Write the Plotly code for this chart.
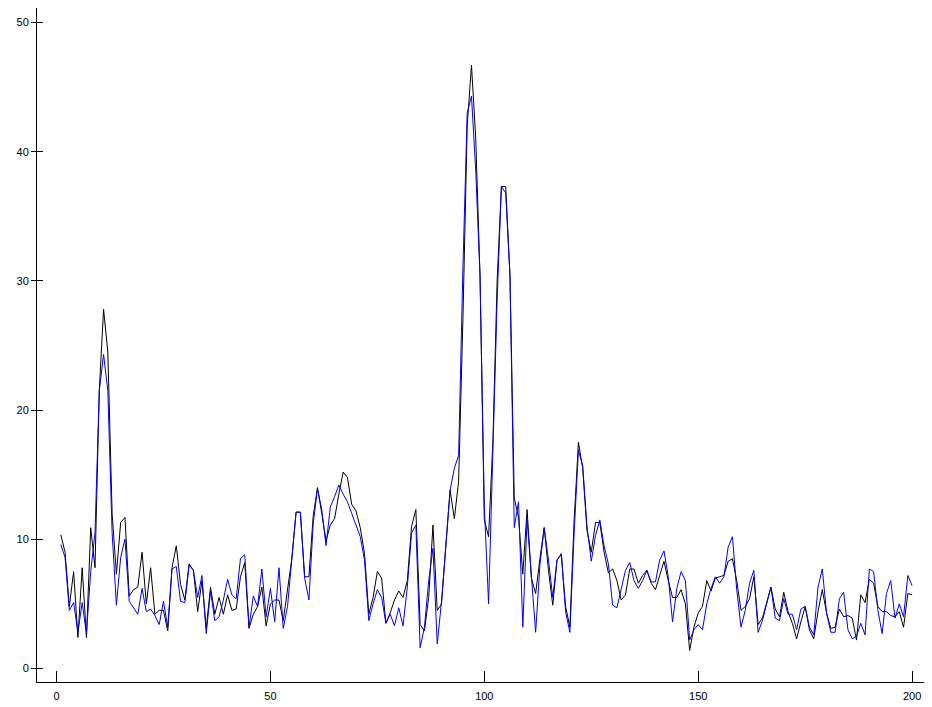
import plotly.graph_objects as go

x_values = list(range(1, 201))

black_series = [
    10.35, 9.0, 4.8, 7.5, 2.4, 7.8, 2.4, 10.9, 7.8, 21.5,
    27.8, 24.5, 12.0, 7.3, 11.3, 11.7, 5.6, 6.1, 6.3, 9.0,
    5.0, 7.8, 4.2, 4.5, 4.5, 2.9, 7.8, 9.5, 6.5, 5.3,
    8.1, 7.6, 4.4, 6.8, 3.1, 6.3, 4.2, 5.5, 4.2, 5.7,
    4.5, 4.6, 7.1, 8.2, 3.1, 4.2, 4.8, 6.3, 3.3, 5.0,
    5.3, 5.3, 3.7, 6.0, 8.5, 12.1, 12.1, 7.1, 7.1, 11.8,
    14.0, 12.0, 9.9, 11.1, 11.6, 13.5, 15.2, 14.8, 12.7, 12.2,
    10.9, 8.9, 4.2, 5.5, 7.5, 7.0, 3.5, 4.3, 5.3, 6.0,
    5.5, 6.8, 11.0, 12.3, 3.4, 2.9, 5.5, 11.1, 4.5, 5.0,
    9.5, 13.8, 11.6, 14.5, 27.0, 42.0, 46.7, 41.0, 30.4, 11.5,
    10.2, 17.5, 30.0, 37.3, 37.3, 30.4, 13.2, 11.7, 7.3, 12.3,
    7.0, 5.8, 8.5, 10.9, 7.6, 4.9, 8.4, 8.8, 4.8, 3.2,
    11.5, 17.5, 15.5, 10.7, 9.0, 11.3, 11.3, 9.0, 7.4, 7.7,
    6.8, 5.3, 5.7, 7.7, 7.7, 6.6, 7.2, 7.6, 6.6, 6.1,
    7.2, 8.3, 6.8, 5.5, 5.5, 6.1, 5.0, 1.4, 3.2, 4.3,
    4.8, 6.8, 6.0, 7.0, 7.1, 7.2, 8.3, 8.5, 6.8, 4.5,
    4.8, 5.4, 7.1, 3.4, 3.9, 5.0, 6.3, 4.6, 4.0, 5.9,
    4.4, 3.5, 2.3, 3.6, 4.8, 3.0, 2.3, 4.4, 6.1, 4.3,
    3.1, 3.2, 4.6, 4.0, 4.1, 3.9, 2.2, 5.7, 5.1, 6.9,
    6.6, 4.8, 4.4, 4.4, 4.1, 4.0, 4.4, 3.2, 5.8, 5.7,
]

blue_series = [
    9.6, 8.6, 4.5, 5.1, 2.8, 5.1, 2.7, 7.5, 10.5, 21.5,
    24.3, 21.5, 10.5, 4.9, 8.6, 10.0, 5.2, 4.7, 4.2, 6.2,
    4.4, 4.6, 4.1, 3.4, 5.2, 3.2, 7.7, 7.9, 5.2, 5.1,
    8.0, 7.6, 5.5, 7.2, 2.7, 6.0, 3.7, 4.0, 5.3, 6.9,
    5.7, 5.4, 8.5, 8.8, 3.2, 5.6, 4.8, 7.7, 4.0, 6.2,
    3.6, 7.8, 3.1, 4.8, 8.6, 12.1, 12.1, 7.0, 5.3, 11.2,
    13.9, 12.3, 9.5, 12.5, 13.3, 14.2, 13.5, 12.9, 12.0, 11.1,
    10.2, 8.4, 3.7, 5.0, 6.1, 5.5, 3.5, 4.2, 3.3, 4.7,
    3.3, 6.3, 10.5, 11.1, 1.6, 3.2, 6.8, 9.3, 1.9, 5.2,
    9.5, 13.8, 15.5, 16.5, 31.0, 43.0, 44.3, 38.5, 30.4, 12.6,
    5.0, 17.0, 28.5, 37.3, 36.8, 30.4, 10.9, 12.9, 3.2, 11.6,
    6.8, 2.8, 8.0, 10.9, 8.4, 5.5, 8.4, 8.9, 4.4, 2.8,
    10.5, 16.9, 15.7, 11.0, 8.3, 10.3, 11.5, 9.5, 8.1, 4.9,
    4.7, 6.1, 7.6, 8.2, 6.8, 6.2, 6.8, 7.6, 6.7, 6.7,
    8.4, 9.1, 7.1, 3.6, 6.2, 7.5, 6.8, 2.2, 3.0, 3.4,
    3.0, 5.0, 6.2, 7.1, 6.6, 7.1, 9.4, 10.2, 6.1, 3.2,
    4.5, 6.6, 7.6, 2.8, 3.7, 5.0, 6.3, 3.9, 3.7, 5.4,
    4.2, 4.2, 3.0, 4.6, 4.8, 3.2, 2.6, 6.3, 7.7, 4.3,
    2.8, 2.8, 5.4, 5.9, 3.0, 2.3, 2.5, 3.5, 2.6, 7.7,
    7.5, 4.5, 2.7, 5.8, 6.8, 3.9, 5.0, 4.0, 7.2, 6.4,
]

x_ticks = [0, 50, 100, 150, 200]
y_ticks = [0, 10, 20, 30, 40, 50]

FONT = "Liberation Sans"

fig = go.Figure()
fig.add_trace(go.Scatter(x=x_values, y=black_series, mode="lines",
                         line=dict(color="#000000", width=1), hoverinfo="skip"))
fig.add_trace(go.Scatter(x=x_values, y=blue_series, mode="lines",
                         line=dict(color="#0000FF", width=1), hoverinfo="skip"))

x_range = [-4.56, 203.48]
y_range = [-1.045, 51.12]

# The page body has an 8px margin, so the figure is sized/offset accordingly.
fig.update_layout(
    width=924, height=699,
    margin=dict(l=29, r=5, t=0, b=25, autoexpand=False),
    paper_bgcolor="white", plot_bgcolor="white",
    showlegend=False,
    font=dict(family=FONT, size=11, color="black"),
    xaxis=dict(
        range=x_range, tickvals=x_ticks, ticktext=[str(v) for v in x_ticks],
        showgrid=False, zeroline=False, automargin=False,
        showline=True, linecolor="black", linewidth=1,
        ticks="inside", ticklen=11, tickwidth=1, tickcolor="black",
        ticklabelstandoff=4,
        tickfont=dict(family=FONT, size=11, color="black"),
    ),
    yaxis=dict(
        range=y_range, tickvals=y_ticks, ticktext=[str(v) for v in y_ticks],
        showgrid=False, zeroline=False, automargin=False,
        showline=True, linecolor="black", linewidth=1,
        ticks="outside", ticklen=5, tickwidth=1, tickcolor="black",
        tickfont=dict(family=FONT, size=11, color="black"),
    ),
    yaxis2=dict(
        range=y_range, tickvals=y_ticks, overlaying="y", side="left",
        anchor="x", showgrid=False, zeroline=False, showline=False,
        automargin=False,
        ticks="inside", ticklen=6, tickwidth=1, tickcolor="black",
        showticklabels=False,
    ),
)

# invisible helper trace so yaxis2 is drawn
fig.add_trace(go.Scatter(x=[x_values[0]], y=[black_series[0]], yaxis="y2",
                         mode="markers", marker=dict(opacity=0), hoverinfo="skip"))

fig.write_html("out.html", config={"displayModeBar": False, "staticPlot": True})
